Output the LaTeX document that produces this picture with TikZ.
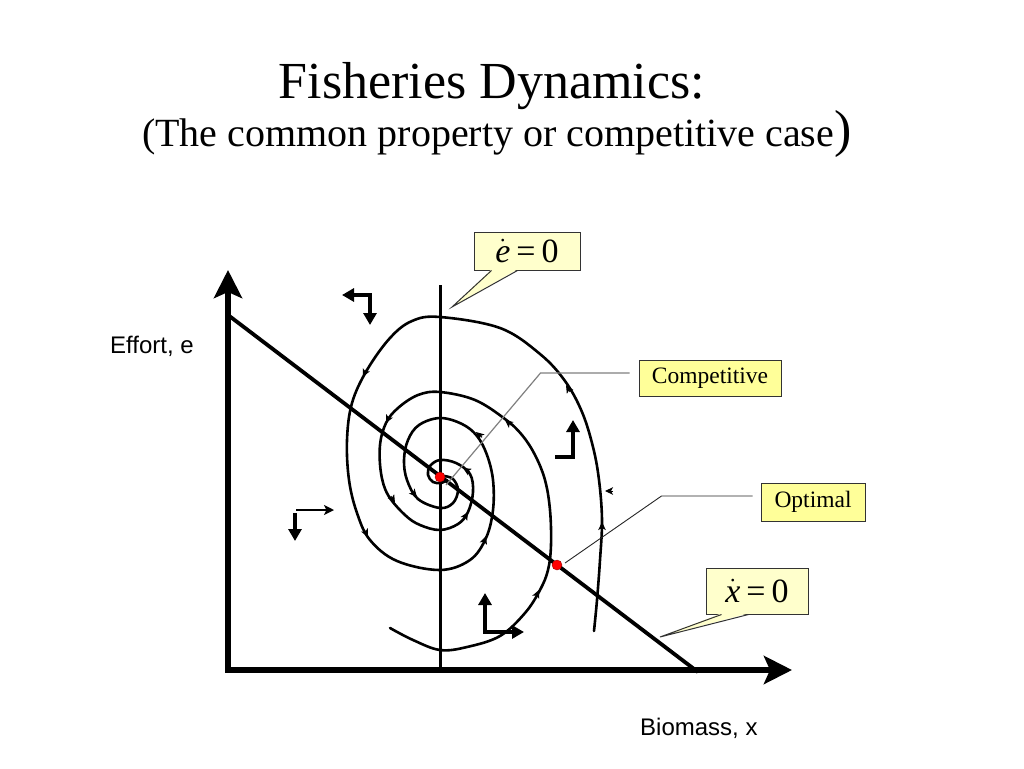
\RequirePackage{fix-cm}
\documentclass[tikz,border=0pt]{standalone}
\usepackage[no-math]{fontspec}
\setmainfont{Liberation Serif}
\newfontfamily\sansf{Liberation Sans}
\usetikzlibrary{arrows.meta}
\definecolor{boxyellow}{HTML}{FFFF99}
\definecolor{paleyellow}{HTML}{FFFFCC}
\definecolor{leadgray}{HTML}{808080}
\tikzset{
  btip/.tip={Triangle[length=12pt,width=13pt]},
  stip/.tip={Stealth[length=10pt,width=10pt,inset=2.5pt]},
  axisline/.style={line width=6.5pt, -{Stealth[length=28pt,width=28pt,inset=6pt]}},
  nullline/.style={line width=3pt},
  diagline/.style={line width=3.8pt},
  spiral/.style={line width=2.6pt, line join=round, line cap=round},
  mtip/.style={-{Stealth[length=8pt,width=7.5pt,inset=2pt]}, line width=1pt},
  boldarr/.style={line width=3.4pt},
  labbox/.style={draw=black!80, line width=1pt, fill=boxyellow, inner sep=0pt,
     font=\fontsize{23.5}{27}\selectfont},
  calbox/.style={draw=black!80, line width=1pt, fill=paleyellow, inner sep=0pt,
     font=\fontsize{34}{38}\selectfont},
  calfill/.style={fill=paleyellow},
  calline/.style={draw=black!80, line width=1pt, line join=miter},
  reddot/.style={circle, fill=red, draw=red!60!black, line width=0.4pt, minimum size=10pt, inner sep=0pt},
  leader/.style={line width=1.2pt},
}
\newcommand{\dotvar}[1]{$\dot{\hbox{\itshape #1}}$\hspace*{6pt}=\hspace*{6pt}0}
\begin{document}
\begin{tikzpicture}[x=1pt,y=-1pt]
\useasboundingbox (0,0) rectangle (1024,768);
\fill[white] (0,0) rectangle (1024,768);

% titles
\node[anchor=base, font=\fontsize{52}{60}\selectfont, inner sep=0pt] (title) at (492,98) {Fisheries Dynamics:};
\node[anchor=base west, font=\fontsize{40}{46}\selectfont, inner sep=0pt] (subtitle) at (142,146)
  {(The common property or competitive case{\fontsize{52}{60}\selectfont )}};

% axis labels
\node[anchor=base west, font=\sansf\fontsize{24}{28}\selectfont, inner sep=0pt] (ylab) at (110,353) {Effort, e};
\node[anchor=base west, font=\sansf\fontsize{24}{28}\selectfont, inner sep=0pt] (xlab) at (640,735) {Biomass, x};

% isoclines
\draw[nullline] (440,285) -- (440,668);
\draw[diagline] (228,315) -- (698,672);

% axes
\coordinate (orig) at (228,670);
\draw[axisline] (228,667) -- (228,270);
\draw[axisline] (225,670) -- (792,670);

% spiral 1
\draw[spiral] plot[smooth, tension=0.6] coordinates {
 (594,631) (597,600) (600,560) (602,520) (599,480) (593,447) (582,412) (565,381)
 (540,354) (500,328) (440,317) (412,321) (390,338) (367,370) (352,403) (347,440)
 (349,480) (357,513) (370,540) (397,561) (440,570) (470,560) (486,538) (493,510)
 (493,480) (487,455) (477,436) (462,424) (440,418) (419,425) (408,440) (404,460)
 (407,480) (418,499) (440,508) (453,503) (458,490) (453,479) (444,476)};
% spiral 2
\draw[spiral] plot[smooth, tension=0.6] coordinates {
 (390,628) (413,640) (440,650) (467,647) (500,636) (525,613) (540,590) (548,570)
 (551,545) (550,510) (545,480) (535,455) (522,435) (505,419) (475,400) (440,392)
 (418,395) (398,408) (386,423) (380,445) (381,473) (388,495) (405,515) (420,525)
 (440,530) (458,524) (468,512) (473,492) (470,474) (456,463) (440,460) (430,466)
 (428,475) (433,482) (441,483) (447,480)};

% small arrow tips on the trajectories
\draw[mtip] (602,530) -- (602,522);
\draw[mtip] (570.1,391.9) -- (566,385);
\draw[mtip] (366.3,369.7) -- (363,377);
\draw[mtip] (364.4,529.9) -- (368,537);
\draw[mtip] (483.4,543.5) -- (486,536);
\draw[mtip] (482,437.3) -- (476,432);
\draw[mtip] (411.7,491) -- (417,497);
\draw[mtip] (535.7,597.3) -- (539,590);
\draw[mtip] (511.2,425) -- (505,420);
\draw[mtip] (389.6,415.9) -- (386,423);
\draw[mtip] (390.9,496.1) -- (395,503);
\draw[mtip] (463.9,518.9) -- (468,512);
\draw[mtip] (469.9,472.1) -- (463,468);
\draw[mtip] (613,491) -- (605,491);

% bold direction arrows
\draw[boldarr, btip-btip] (342,295) -- (370,295) -- (370,325);
\draw[boldarr, line width=2.4pt, -stip] (296,510) -- (334,510);
\draw[boldarr, -btip] (295,513) -- (295,541);
\draw[boldarr, btip-btip] (485,593) -- (485,632) -- (524,632);
\draw[boldarr, -btip] (555,457) -- (573,457) -- (573,420);

% equilibrium points
\node[reddot] (ce) at (440,477) {};
\node[reddot] (od) at (557,565) {};

% label boxes with leaders
\node[labbox, minimum width=142pt, minimum height=36pt] (comp) at (710,378) {Competitive};
\draw[leader, leadgray] ([xshift=-9pt,yshift=5pt]comp.west) -- ++(-89,0) -- ([shift={(6pt,-8pt)}]ce.center);
\node[labbox, minimum width=104pt, minimum height=38pt] (opt) at (813,502) {Optimal};
\draw[leader, black!85, line width=0.9pt] ([xshift=-8pt,yshift=6pt]opt.west) -- ++(-91,0) -- ([shift={(8pt,2pt)}]od.center);

% callouts
\node[calbox, minimum width=106pt, minimum height=38pt] (ed) at (527,251) {\dotvar{e}};
\coordinate (edtip) at (452,307);
\fill[calfill] ([xshift=18pt,yshift=1.2pt]ed.south west) -- (edtip) -- ([xshift=44pt,yshift=1.2pt]ed.south west) -- cycle;
\draw[calline] ([xshift=18pt]ed.south west) -- (edtip) -- ([xshift=44pt]ed.south west);

\node[calbox, minimum width=102pt, minimum height=46pt] (xd) at (757,591) {\dotvar{x}};
\coordinate (xdtip) at (660,637);
\fill[calfill] ([xshift=16pt,yshift=1.2pt]xd.south west) -- (xdtip) -- ([xshift=43pt,yshift=1.2pt]xd.south west) -- cycle;
\draw[calline] ([xshift=16pt]xd.south west) -- (xdtip) -- ([xshift=43pt]xd.south west);
\end{tikzpicture}
\end{document}
